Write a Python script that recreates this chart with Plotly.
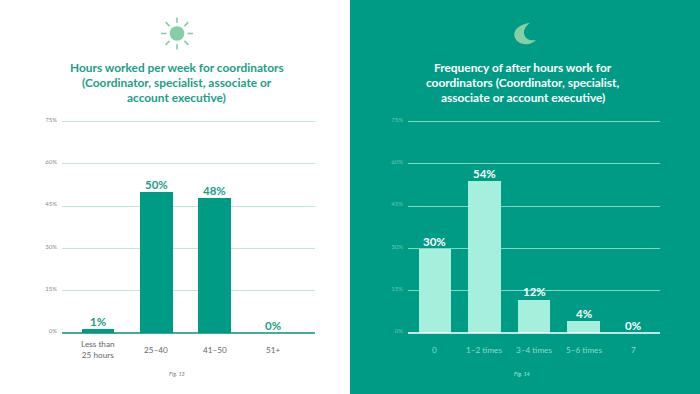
import plotly.graph_objects as go

# Data
hours_categories = ["Less than<br>25 hours", "25–40", "41–50", "51+"]
hours_values = [1.7, 50, 48, 0]
hours_labels = ["1%", "50%", "48%", "0%"]
freq_categories = ["0", "1–2 times", "3–4 times", "5–6 times", "7"]
freq_values = [30, 54, 12, 4.4, 0]
freq_labels = ["30%", "54%", "12%", "4%", "0%"]
y_ticks = [0, 15, 30, 45, 60, 75]
y_tick_labels = ["0%", "15%", "30%", "45%", "60%", "75%"]
title_left = ["Hours worked per week for coordinators", "(Coordinator, specialist, associate or", "account executive)"]
title_right = ["Frequency of after hours work for", "coordinators (Coordinator, specialist,", "associate or account executive)"]

W, H = 700, 394
TEAL = "#009B85"
MINT = "#A5EFDC"
ICON = "#86CFA4"
LABEL_L = "#1B9E88"
FONT = "Lato"

def px(x): return x / W
def py(y): return 1 - y / H

fig = go.Figure()
fig.add_trace(go.Bar(x=list(range(4)), y=hours_values, width=0.56, marker=dict(color=TEAL, line_width=0),
                     cliponaxis=False, xaxis="x", yaxis="y", showlegend=False))
fig.add_trace(go.Bar(x=list(range(5)), y=freq_values, width=0.66, marker=dict(color=MINT, line_width=0),
                     cliponaxis=False, xaxis="x2", yaxis="y2", showlegend=False))

def yaxis(domain_anchor, grid, tick):
    return dict(anchor=domain_anchor, domain=[py(333), py(118.5)], range=[0, 76.06], tickvals=y_ticks, ticktext=y_tick_labels,
                showgrid=True, gridcolor=grid, gridwidth=1, zeroline=False, showline=False, ticks="", automargin=False,
                tickfont=dict(family=FONT, size=6, color=tick), ticklabelstandoff=4, ticklabelshift=-2)

fig.update_layout(
    width=W, height=H, margin=dict(l=0, r=0, t=0, b=0, autoexpand=False), paper_bgcolor="white", plot_bgcolor="rgba(0,0,0,0)",
    bargap=0, showlegend=False,
    xaxis=dict(domain=[px(62), px(315)], range=[-0.617, 3.72], anchor="y", showticklabels=False, showgrid=False,
               zeroline=False, ticks="", tickmode="array", tickvals=[], automargin=False),
    yaxis=yaxis("x", "#BFE8DD", "#8a8a8a"),
    xaxis2=dict(domain=[px(408), px(660)], range=[-0.545, 4.545], anchor="y2", showticklabels=False, showgrid=False,
                zeroline=False, ticks="", tickmode="array", tickvals=[], automargin=False),
    yaxis2=yaxis("x2", "#7FD8C2", "#6CC5AE"),
)

shapes = [
    dict(type="rect", xref="paper", yref="paper", x0=px(350), x1=1, y0=0, y1=1, fillcolor=TEAL, line_width=0, layer="below"),
    dict(type="line", xref="paper", yref="paper", x0=px(62), x1=px(315), y0=py(333), y1=py(333), line=dict(color="#0A8F7A", width=1.5)),
    dict(type="line", xref="paper", yref="paper", x0=px(408), x1=px(660), y0=py(333), y1=py(333), line=dict(color="white", width=1.5)),
    dict(type="circle", xref="paper", yref="paper", x0=px(169.7), x1=px(184.3), y0=py(40.8), y1=py(26.2), fillcolor=ICON, line_width=0),
]
cx, cy = 177, 33.5
for (dx, dy) in [(0, 1), (0, -1), (1, 0), (-1, 0), (.707, .707), (-.707, .707), (.707, -.707), (-.707, -.707)]:
    r0, r1 = 10.5, 16
    shapes.append(dict(type="line", xref="paper", yref="paper",
                       x0=px(cx + dx * r0), x1=px(cx + dx * r1), y0=py(cy + dy * r0), y1=py(cy + dy * r1),
                       line=dict(color=ICON, width=1.6)))
def P(x, y): return f"{px(x):.5f},{py(y):.5f}"
moon = (f"M{P(530, 22.8)} C{P(520, 24.5)} {P(514.3, 29)} {P(514.3, 34.5)} "
        f"C{P(514.3, 40.5)} {P(520, 44.2)} {P(526, 44.2)} "
        f"C{P(530, 44.2)} {P(534, 42.5)} {P(536, 40)} "
        f"C{P(526, 42.5)} {P(518, 32)} {P(530, 22.8)} Z")
shapes.append(dict(type="path", xref="paper", yref="paper", path=moon, fillcolor=ICON, line_width=0))
fig.update_layout(shapes=shapes)

ann = []
TITLE_Y = [67.7, 82.2, 97]
for line, y in zip(title_left, TITLE_Y):
    ann.append(dict(x=px(177), y=py(y), xref="paper", yref="paper", text=line, showarrow=False, xanchor="center", yanchor="middle",
                    font=dict(family=FONT, size=11.9, color=LABEL_L, weight=700)))
for line, y in zip(title_right, TITLE_Y):
    ann.append(dict(x=px(522.5), y=py(y), xref="paper", yref="paper", text=line, showarrow=False, xanchor="center", yanchor="middle",
                    font=dict(family=FONT, size=11.9, color="white", weight=700)))
ann.append(dict(x=px(177), y=py(374), xref="paper", yref="paper", text="<i>Fig. 13</i>", showarrow=False, xanchor="center", yanchor="middle",
                font=dict(family=FONT, size=5.5, color="#777777")))
ann.append(dict(x=px(522), y=py(374), xref="paper", yref="paper", text="<i>Fig. 14</i>", showarrow=False, xanchor="center", yanchor="middle",
                font=dict(family=FONT, size=5.5, color="#A5EFDC")))
for i, c in enumerate(hours_categories):
    ann.append(dict(x=i, xref="x", y=py(349.5), yref="paper", text=c, showarrow=False, xanchor="center", yanchor="middle", align="center",
                    font=dict(family=FONT, size=8.2, color="#666666")))
for i, c in enumerate(freq_categories):
    ann.append(dict(x=i, xref="x2", y=py(349.5), yref="paper", text=c, showarrow=False, xanchor="center", yanchor="middle", align="center",
                    font=dict(family=FONT, size=8.2, color="#8CDCC6")))
for i, (v, t) in enumerate(zip(hours_values, hours_labels)):
    ann.append(dict(x=i, xref="x", y=v, yref="y", yshift=7.2, text=t, showarrow=False, xanchor="center", yanchor="middle",
                    font=dict(family=FONT, size=11.5, color=LABEL_L, weight=700)))
for i, (v, t) in enumerate(zip(freq_values, freq_labels)):
    ann.append(dict(x=i, xref="x2", y=v, yref="y2", yshift=7.2, text=t, showarrow=False, xanchor="center", yanchor="middle",
                    font=dict(family=FONT, size=11.5, color="white", weight=700)))
fig.update_layout(annotations=ann)

fig.write_html("out.html", config=dict(displayModeBar=False),
               post_script="document.documentElement.style.margin='0';document.body.style.margin='0';document.body.style.padding='0';document.body.style.overflow='hidden';")
